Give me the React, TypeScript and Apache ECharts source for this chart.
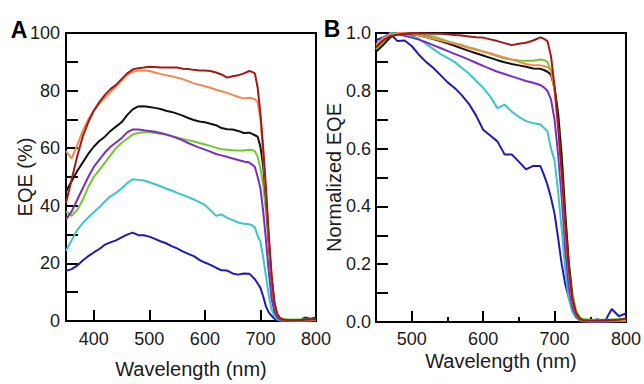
import React, { useEffect, useRef } from "react";
import * as echarts from "echarts";

// Wavelength grids (nm)
const wavelengthsA = [350,360,370,380,390,400,410,420,430,440,450,460,470,480,490,500,510,520,530,540,550,560,570,580,590,600,610,620,630,640,650,660,670,680,685,690,695,700,705,710,715,720,725,730,735,740,750,760,770,780,790,800];
const wavelengthsB = [450,460,470,480,490,500,510,520,530,540,550,560,570,580,590,600,610,620,630,640,650,660,670,680,685,690,695,700,705,710,715,720,725,730,735,740,750,760,770,780,790,800];

// Panel A: EQE (%)
const darkredA = [41,49,57,64,69,73,76,78.5,80.5,82,84,86,87.3,87.8,88,88.3,88.2,88,88,88,88,87.6,87.5,87.2,87,87,86.8,86.3,85.6,84.5,85,85.3,86,86.8,86.5,86,81,72,60,46,30,16,6.5,2.5,1,0.5,0.3,0.3,0.3,0.4,0.5,0.6];
const orangeA = [59,56.5,61,66,70,73,75.5,77.5,79.5,81.5,83.5,85.5,86.5,87,87,86.8,86.3,85.8,85.3,85,84.5,84,83.3,82.5,82,81.5,81,80.3,79.8,79.2,78.5,77.8,77.3,77.5,77.3,77,76,70,58,44,28,15,6,2.3,0.9,0.4,0.3,0.2,0.2,0.3,0.3,0.4];
const blackA = [45,48.5,52,55,58,60.5,62.5,64,66,67.5,69,71.5,73.5,74.5,74.6,74.3,74,73.6,73,72.6,72,71.3,70.5,69.8,69.3,69,68.5,68,67,66.6,66.5,66,65.3,65.4,65,64.5,64,60.5,53.7,42.5,27.6,15,6,2.2,0.9,0.4,0.3,0.3,0.3,0.4,0.5,0.6];
const purpleA = [35.3,38,42,46,50,53.5,56,58.5,60.5,62,63.5,65.5,66.5,66.5,66.2,66,65.7,65.3,64.8,64.2,63.5,62.7,61.8,61,60.2,59.5,58.8,58,57.5,57,56.4,55.9,55.4,55,54.3,53.5,50,46,38,28,17,8,3.3,1.3,0.5,0.2,0.2,0.2,0.2,0.3,0.3,0.4];
const greenA = [38,36.5,38.5,42,46.5,50,52.5,55,57.5,60,61.8,63.3,64.7,65.3,65.5,65.5,65.3,65,64.7,64.2,63.7,63.2,62.8,62.3,61.8,61.3,60.8,60.2,59.6,59.5,59.3,59.2,59.2,59.5,59.4,59,57,53,47,38,25,14,6.5,2.5,1.2,0.7,0.5,0.5,0.5,0.6,0.7,0.7];
const cyanA = [24.4,28,31.5,34,36,37.8,39.5,41.5,43.3,44.5,46,47.8,49.2,49,48.8,48.2,47.5,46.8,46,45.3,44.5,43.8,43,42.2,41.3,40.3,38.5,36.5,37,35.8,35,34.2,33.8,33.6,33.2,32.5,29.5,27.5,22,15.5,9,4,1.7,0.7,0.3,0.2,0.2,0.2,0.2,0.2,0.3,0.3];
const blueA = [17.4,18,19.2,21,22.5,23.8,25,26.5,27.3,28,29,30,30.7,29.8,29.8,29.3,28.5,27.7,27,26,25.2,24.2,23.3,22.5,21.2,20.3,19.5,18.5,17.6,17.5,16.5,16.1,16.5,16.4,15.5,14.5,13,11.5,8.5,5,3,1.8,0.8,0.3,0.1,0,0.1,0.2,0.1,1.2,0.8,1.2];

// Panel B: normalized EQE
const darkredB = [0.951,0.974,0.989,0.994,0.997,1.0,0.999,0.998,0.997,0.997,0.996,0.993,0.991,0.988,0.985,0.984,0.978,0.972,0.965,0.958,0.963,0.966,0.974,0.985,0.98,0.972,0.92,0.815,0.68,0.52,0.34,0.18,0.075,0.03,0.012,0.006,0.004,0.004,0.004,0.006,0.008,0.012];
const orangeB = [0.96,0.983,0.994,1.0,1.0,0.998,0.992,0.986,0.98,0.975,0.969,0.963,0.956,0.948,0.942,0.936,0.93,0.922,0.915,0.908,0.9,0.893,0.888,0.888,0.886,0.882,0.87,0.8,0.67,0.5,0.32,0.17,0.07,0.026,0.01,0.005,0.003,0.003,0.003,0.004,0.004,0.005];
const blackB = [0.935,0.958,0.985,0.998,1.0,0.996,0.992,0.986,0.979,0.972,0.964,0.956,0.947,0.938,0.93,0.922,0.914,0.906,0.899,0.893,0.888,0.883,0.877,0.876,0.872,0.866,0.856,0.81,0.72,0.57,0.37,0.2,0.08,0.03,0.012,0.005,0.004,0.004,0.005,0.006,0.007,0.008];
const purpleB = [0.955,0.98,0.995,0.996,0.99,0.984,0.977,0.968,0.958,0.948,0.938,0.928,0.918,0.908,0.897,0.886,0.876,0.866,0.858,0.85,0.842,0.834,0.828,0.82,0.812,0.8,0.77,0.7,0.58,0.43,0.25,0.12,0.05,0.02,0.008,0.003,0.002,0.002,0.002,0.003,0.003,0.004];
const greenB = [0.945,0.966,0.988,0.997,1.0,1.0,0.997,0.992,0.988,0.98,0.972,0.965,0.959,0.951,0.944,0.936,0.928,0.919,0.912,0.908,0.905,0.904,0.904,0.908,0.907,0.9,0.87,0.81,0.72,0.58,0.38,0.21,0.1,0.04,0.018,0.01,0.008,0.008,0.008,0.009,0.01,0.01];
const cyanB = [0.945,0.975,1.0,0.998,0.995,0.99,0.98,0.962,0.945,0.928,0.914,0.9,0.88,0.86,0.835,0.81,0.78,0.74,0.752,0.728,0.71,0.695,0.688,0.684,0.672,0.66,0.6,0.56,0.45,0.32,0.18,0.08,0.035,0.015,0.005,0.003,0.003,0.003,0.003,0.003,0.004,0.004];
const blueB = [0.975,0.985,0.998,0.972,0.974,0.955,0.925,0.9,0.88,0.855,0.83,0.81,0.785,0.755,0.715,0.665,0.645,0.625,0.58,0.58,0.555,0.528,0.54,0.54,0.51,0.475,0.43,0.375,0.29,0.2,0.13,0.085,0.05,0.025,0.01,0.005,0.0,0.01,0.0,0.045,0.02,0.03];

// Tick labels
const xLabelsA = [400, 500, 600, 700, 800];
const xMajorTicksA = [400, 500, 600, 700];
const xLabelsB = [500, 600, 700, 800];
const xMajorTicksB = [500, 600, 700];
const xMinorTicksB = [550, 650, 750];

const colors = {
  blue: "#1c1cb0",
  cyan: "#38c6c6",
  green: "#70c82a",
  purple: "#7a2cc8",
  black: "#111111",
  orange: "#f4884f",
  darkred: "#a01a1a",
};

const FONT = "'Liberation Sans', Arial, Helvetica, sans-serif";
const TXT = "#1a1a1a";

function zip(xs: number[], ys: number[]) {
  return xs.map((x, i) => [x, ys[i]]);
}

export default function App() {
  const ref = useRef<HTMLDivElement>(null);
  useEffect(() => {
    if (!ref.current) return;
    const chart = echarts.init(ref.current, null, { renderer: "svg" });

    const axisLine = { show: true, onZero: false, lineStyle: { color: "#000", width: 2 } };
    const tickStyle = { color: "#000", width: 2 };
    const labelStyle = { fontSize: 18, color: TXT, fontFamily: FONT };
    const nameStyle = { fontSize: 20, color: TXT, fontFamily: FONT };

    const seriesA = [
      ["blue", blueA], ["cyan", cyanA], ["green", greenA], ["purple", purpleA],
      ["black", blackA], ["orange", orangeA], ["darkred", darkredA],
    ] as [keyof typeof colors, number[]][];
    const seriesB = [
      ["blue", blueB], ["cyan", cyanB], ["green", greenB], ["purple", purpleB],
      ["black", blackB], ["orange", orangeB], ["darkred", darkredB],
    ] as [keyof typeof colors, number[]][];

    const mk = (name: string, data: number[], xs: number[], xi: number, yi: number) => ({
      type: "line",
      name,
      xAxisIndex: xi,
      yAxisIndex: yi,
      data: zip(xs, data),
      showSymbol: false,
      symbol: "none",
      silent: true,
      clip: true,
      lineStyle: { width: 2, color: colors[name as keyof typeof colors] },
      itemStyle: { color: colors[name as keyof typeof colors] },
    });

    const option: any = {
      animation: false,
      backgroundColor: "#fff",
      grid: [
        { left: 66, top: 33, width: 250, height: 289, show: true, borderColor: "#000", borderWidth: 2, containLabel: false },
        { left: 376, top: 33, width: 250, height: 289, show: true, borderColor: "#000", borderWidth: 2, containLabel: false },
      ],
      xAxis: [
        {
          type: "value", gridIndex: 0, min: 350, max: 800, position: "bottom",
          axisLine,
          axisTick: { show: true, inside: true, length: 11, lineStyle: tickStyle, customValues: xMajorTicksA },
          axisLabel: { ...labelStyle, margin: 9, customValues: xLabelsA },
          splitLine: { show: false },
          name: "Wavelength (nm)", nameLocation: "middle", nameGap: 38, nameMoveOverlap: false, nameTextStyle: nameStyle,
        },
        {
          type: "value", gridIndex: 1, min: 450, max: 800, position: "bottom",
          axisLine,
          axisTick: { show: true, inside: true, length: 11, lineStyle: tickStyle, customValues: xMajorTicksB },
          axisLabel: { ...labelStyle, margin: 8, customValues: xLabelsB },
          splitLine: { show: false },
          name: "Wavelength (nm)", nameLocation: "middle", nameGap: 29, nameMoveOverlap: false, nameTextStyle: nameStyle,
        },
        {
          type: "value", gridIndex: 1, min: 450, max: 800, position: "bottom",
          axisLine: { show: false },
          axisTick: { show: true, inside: true, length: 5, lineStyle: tickStyle, customValues: xMinorTicksB },
          axisLabel: { show: false },
          splitLine: { show: false },
        },
      ],
      yAxis: [
        {
          type: "value", gridIndex: 0, min: 0, max: 100, interval: 10,
          axisLine,
          axisTick: { show: true, inside: true, length: 12, lineStyle: tickStyle },
          axisLabel: { ...labelStyle, margin: 6, formatter: (v: number) => (Math.round(v) % 20 === 0 ? String(Math.round(v)) : "") },
          splitLine: { show: false },
          name: "EQE (%)", nameLocation: "middle", nameGap: 31, nameMoveOverlap: false, nameTextStyle: nameStyle,
        },
        {
          type: "value", gridIndex: 1, min: 0, max: 1, interval: 0.1,
          axisLine,
          axisTick: { show: true, inside: true, length: 12, lineStyle: tickStyle },
          axisLabel: {
            ...labelStyle, margin: 5,
            formatter: (v: number) => {
              const t = Math.round(v * 10);
              return t % 2 === 0 ? (t / 10).toFixed(1) : "";
            },
          },
          splitLine: { show: false },
          name: "Normalized EQE", nameLocation: "middle", nameGap: 32, nameMoveOverlap: false, nameTextStyle: nameStyle,
        },
      ],
      graphic: [
        { type: "text", x: 19, y: 30, style: { text: "A", font: `bold 23px ${FONT}`, fill: "#000", textAlign: "center", textVerticalAlign: "middle", align: "center", verticalAlign: "middle" } },
        { type: "text", x: 332, y: 29, style: { text: "B", font: `bold 23px ${FONT}`, fill: "#000", textAlign: "center", textVerticalAlign: "middle", align: "center", verticalAlign: "middle" } },
      ],
      series: [
        ...seriesA.map(([n, d]) => mk(n, d, wavelengthsA, 0, 0)),
        ...seriesB.map(([n, d]) => mk(n, d, wavelengthsB, 1, 1)),
      ],
    };

    chart.setOption(option);
    return () => chart.dispose();
  }, []);

  return (
    <div
      ref={ref}
      style={{ position: "absolute", left: 0, top: 0, width: 644, height: 384, background: "#fff" }}
    />
  );
}
